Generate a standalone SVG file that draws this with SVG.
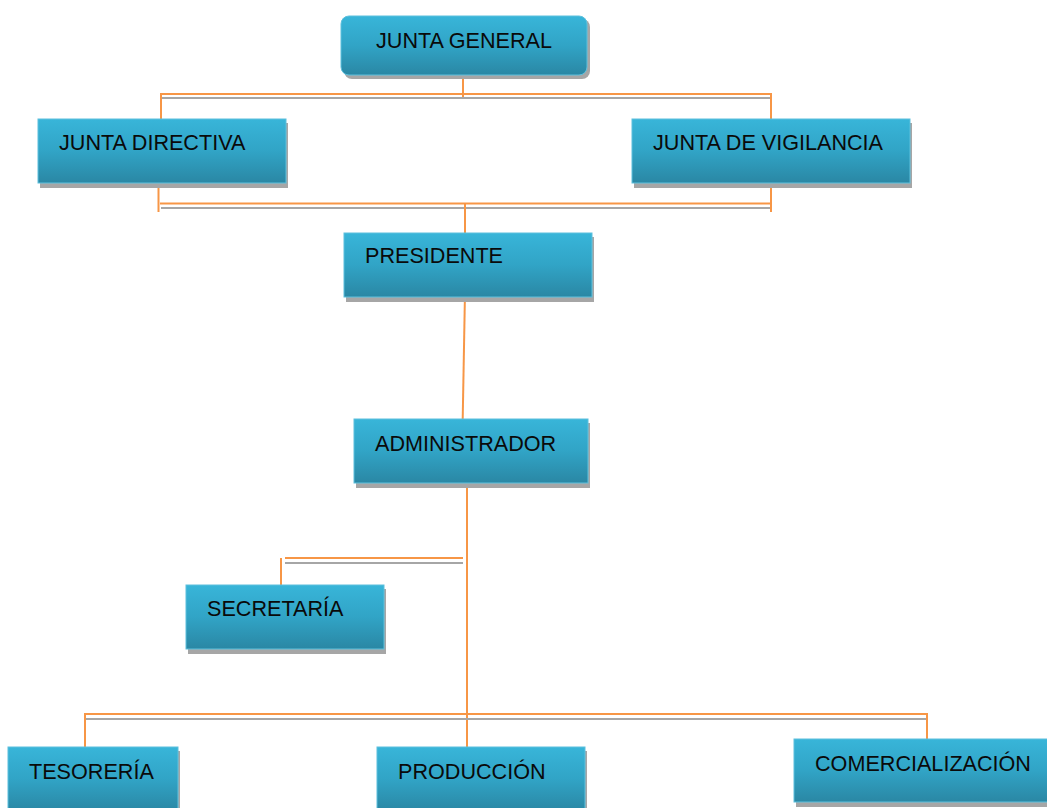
<svg xmlns="http://www.w3.org/2000/svg" width="1047" height="808" viewBox="0 0 1047 808">
<defs>
<linearGradient id="g" x1="0" y1="0" x2="0" y2="1">
<stop offset="0" stop-color="#38B5D9"/>
<stop offset="0.5" stop-color="#31A4C6"/>
<stop offset="1" stop-color="#2A87A4"/>
</linearGradient>
</defs>
<style>
.box{fill:url(#g);stroke:#5DC0DD;stroke-width:1}
.sh{fill:#A6A6A6}
.t{font-family:"Liberation Sans",Arial,sans-serif;font-size:21.6px;fill:#0A0A0A}
.o{stroke:#F79646;stroke-width:2;fill:none}
.gr{stroke:#A6A6A6;stroke-width:2;fill:none}
</style>
<rect width="1047" height="808" fill="#FFFFFF"/>
<g id="connectors">
<line class="gr" x1="161" y1="98" x2="770" y2="98"/>
<line class="o" x1="160" y1="94" x2="772" y2="94"/>
<line class="o" x1="463" y1="67" x2="463" y2="97"/>
<line class="o" x1="161" y1="94" x2="161" y2="120"/>
<line class="o" x1="771" y1="94" x2="771" y2="120"/>
<line class="gr" x1="161" y1="208" x2="770" y2="208"/>
<line class="o" x1="160" y1="203.5" x2="772" y2="203.5"/>
<line class="o" x1="158.5" y1="178" x2="158.5" y2="212"/>
<line class="o" x1="771" y1="178" x2="771" y2="212"/>
<line class="o" x1="465" y1="204" x2="465" y2="234"/>
<line class="o" x1="465" y1="292" x2="462.5" y2="430"/>
<line class="o" x1="467" y1="482" x2="467" y2="748"/>
<line class="gr" x1="285" y1="563" x2="463" y2="563"/>
<line class="o" x1="285" y1="558" x2="463" y2="558"/>
<line class="o" x1="281" y1="558" x2="281" y2="590"/>
<line class="gr" x1="85" y1="719" x2="926" y2="719"/>
<line class="o" x1="84" y1="714" x2="928" y2="714"/>
<line class="o" x1="85" y1="714" x2="85" y2="748"/>
<line class="o" x1="927" y1="713" x2="927" y2="742"/>
</g>
<g id="junta-general">
<rect class="sh" x="344" y="19" width="246" height="60" rx="8"/>
<rect class="box" x="341" y="16" width="246" height="59" rx="8"/>
<text class="t" x="376" y="48">JUNTA GENERAL</text>
</g>
<g id="junta-directiva">
<rect class="sh" x="40" y="123" width="248" height="65"/>
<rect class="box" x="38" y="119" width="248" height="64"/>
<text class="t" x="59" y="150">JUNTA DIRECTIVA</text>
</g>
<g id="junta-vigilancia">
<rect class="sh" x="634" y="123" width="278" height="65"/>
<rect class="box" x="632" y="119" width="278" height="64"/>
<text class="t" x="653" y="150">JUNTA DE VIGILANCIA</text>
</g>
<g id="presidente">
<rect class="sh" x="346" y="237" width="248" height="65"/>
<rect class="box" x="344" y="233" width="248" height="64"/>
<text class="t" x="365" y="263">PRESIDENTE</text>
</g>
<g id="administrador">
<rect class="sh" x="356" y="423" width="234" height="65"/>
<rect class="box" x="354" y="419" width="234" height="64"/>
<text class="t" x="375" y="451">ADMINISTRADOR</text>
</g>
<g id="secretaria">
<rect class="sh" x="188" y="589" width="198" height="65"/>
<rect class="box" x="186" y="585" width="198" height="64"/>
<text class="t" x="207" y="616">SECRETARÍA</text>
</g>
<g id="tesoreria">
<rect class="sh" x="10" y="751" width="170" height="65"/>
<rect class="box" x="8" y="747" width="170" height="64"/>
<text class="t" x="29" y="779">TESORERÍA</text>
</g>
<g id="produccion">
<rect class="sh" x="379" y="751" width="208" height="65"/>
<rect class="box" x="377" y="747" width="208" height="64"/>
<text class="t" x="398" y="779">PRODUCCIÓN</text>
</g>
<g id="comercializacion">
<rect class="sh" x="796" y="743" width="260" height="64"/>
<rect class="box" x="794" y="739" width="260" height="63"/>
<text class="t" x="815" y="771">COMERCIALIZACIÓN</text>
</g>
</svg>
